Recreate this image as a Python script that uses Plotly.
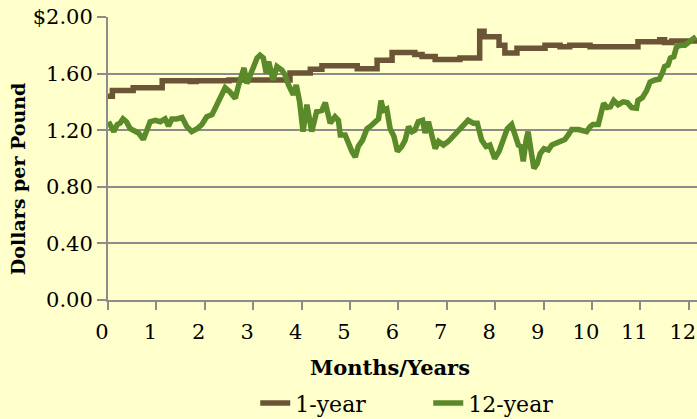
import plotly.graph_objects as go

# 1-year series (step changes): time in years, price in $/lb
one_year_t = [0.0, 0.09, 0.52, 1.12, 1.70, 1.82, 2.50, 3.76, 4.18, 4.42, 5.15, 5.56, 5.87,
              6.34, 6.49, 6.76, 7.27, 7.68, 7.77, 8.08, 8.20, 8.45, 9.03, 9.34, 9.54, 9.96,
              10.95, 11.40, 11.50, 11.65, 12.17]
one_year_v = [1.44, 1.48, 1.50, 1.55, 1.545, 1.55, 1.555, 1.605, 1.63, 1.655, 1.635, 1.695, 1.75,
              1.735, 1.72, 1.70, 1.71, 1.90, 1.86, 1.80, 1.745, 1.78, 1.80, 1.79, 1.80, 1.79,
              1.825, 1.84, 1.82, 1.83, 1.83]

# 12-year series
twelve_year_t = [0.01, 0.12, 0.19, 0.25, 0.31, 0.38, 0.46, 0.56, 0.63, 0.73, 0.81, 0.87, 0.98,
                 1.08, 1.18, 1.25, 1.32, 1.42, 1.53, 1.63, 1.73, 1.84, 1.94, 2.04, 2.15, 2.25,
                 2.32, 2.42, 2.52, 2.63, 2.70, 2.77, 2.81, 2.87, 2.94, 3.01, 3.08, 3.14, 3.21,
                 3.27, 3.32, 3.41, 3.49, 3.59, 3.66, 3.73, 3.80, 3.83, 3.89, 3.96, 4.03, 4.11,
                 4.21, 4.31, 4.42, 4.49, 4.59, 4.69, 4.76, 4.80, 4.90, 4.97, 5.04, 5.11, 5.17,
                 5.26, 5.35, 5.43, 5.52, 5.59, 5.64, 5.69, 5.76, 5.83, 5.91, 5.98, 6.07, 6.14,
                 6.21, 6.28, 6.34, 6.41, 6.50, 6.55, 6.62, 6.69, 6.76, 6.83, 6.93, 7.03, 7.13,
                 7.24, 7.34, 7.44, 7.55, 7.63, 7.72, 7.81, 7.89, 7.99, 8.08, 8.17, 8.25, 8.34,
                 8.41, 8.48, 8.53, 8.58, 8.64, 8.68, 8.75, 8.80, 8.87, 8.93, 9.01, 9.10, 9.17,
                 9.27, 9.34, 9.44, 9.51, 9.58, 9.72, 9.82, 9.89, 9.96, 10.02, 10.13, 10.20,
                 10.24, 10.31, 10.38, 10.45, 10.54, 10.64, 10.73, 10.82, 10.92, 10.95, 11.04,
                 11.13, 11.20, 11.30, 11.39, 11.46, 11.50, 11.57, 11.62, 11.69, 11.75, 11.83,
                 11.92, 12.01, 12.09, 12.15]
twelve_year_v = [1.26, 1.19, 1.24, 1.25, 1.28, 1.26, 1.21, 1.19, 1.18, 1.135, 1.20, 1.26, 1.27,
                 1.26, 1.28, 1.23, 1.28, 1.28, 1.29, 1.225, 1.19, 1.21, 1.24, 1.295, 1.31, 1.38,
                 1.44, 1.50, 1.47, 1.425, 1.52, 1.60, 1.64, 1.53, 1.60, 1.66, 1.71, 1.73, 1.71,
                 1.60, 1.685, 1.555, 1.65, 1.625, 1.59, 1.52, 1.47, 1.45, 1.52, 1.40, 1.19, 1.38,
                 1.19, 1.33, 1.34, 1.395, 1.25, 1.295, 1.27, 1.166, 1.166, 1.095, 1.05, 1.01, 1.085,
                 1.13, 1.21, 1.23, 1.26, 1.28, 1.41, 1.34, 1.35, 1.21, 1.155, 1.05, 1.085, 1.13,
                 1.225, 1.19, 1.20, 1.26, 1.27, 1.18, 1.26, 1.18, 1.07, 1.12, 1.095, 1.12, 1.155,
                 1.20, 1.24, 1.27, 1.25, 1.25, 1.13, 1.085, 1.095, 1.00, 1.05, 1.13, 1.21, 1.24,
                 1.18, 1.095, 1.085, 0.98, 1.13, 1.19, 1.035, 0.93, 0.965, 1.035, 1.07, 1.06, 1.095,
                 1.11, 1.13, 1.135, 1.166, 1.205, 1.205, 1.20, 1.19, 1.225, 1.24, 1.24, 1.33,
                 1.39, 1.36, 1.365, 1.41, 1.38, 1.40, 1.395, 1.36, 1.355, 1.41, 1.43,
                 1.48, 1.54, 1.555, 1.56, 1.61, 1.65, 1.66, 1.71, 1.72, 1.79, 1.80,
                 1.80, 1.825, 1.84, 1.86]

x_ticks = list(range(0, 13))
y_ticks = [0.0, 0.4, 0.8, 1.2, 1.6, 2.0]
y_tick_text = ["0.00", "0.40", "0.80", "1.20", "1.60", "$2.00"]

BROWN = "#6B5536"
GREEN = "#5B8A2B"
BG = "#FFFFCC"
GRID = "#8C8C8C"
FONT = "DejaVu Serif"

fig = go.Figure()
fig.add_trace(go.Scatter(x=one_year_t, y=one_year_v, name="1-year", mode="lines",
                         line=dict(color=BROWN, width=5.5, shape="hv")))
fig.add_trace(go.Scatter(x=twelve_year_t, y=twelve_year_v, name="12-year", mode="lines",
                         line=dict(color=GREEN, width=5.5)))

fig.update_layout(
    width=697, height=419,
    margin=dict(l=108, r=0, t=17, b=119, autoexpand=False),
    paper_bgcolor=BG, plot_bgcolor=BG,
    font=dict(family=FONT, size=21, color="black"),
    showlegend=True,
    legend=dict(orientation="h", x=0.25, xanchor="left", y=-0.365, yanchor="middle",
                font=dict(family=FONT, size=22), bgcolor="rgba(0,0,0,0)",
                entrywidth=128, entrywidthmode="pixels", tracegroupgap=0),
    annotations=[
        dict(text="<b>Months/Years</b>", xref="paper", yref="paper", x=0.478, y=-0.24,
             xanchor="center", yanchor="middle", showarrow=False,
             font=dict(family=FONT, size=21)),
        dict(text="<b>Dollars per Pound</b>", xref="paper", yref="paper", x=-0.153, y=0.43,
             xanchor="center", yanchor="middle", showarrow=False, textangle=-90,
             font=dict(family=FONT, size=19)),
    ],
)
fig.update_xaxes(range=[0, 12.17], tickvals=x_ticks, showgrid=False, zeroline=False,
                 automargin=False, ticklabeloverflow="allow",
                 showline=True, linecolor=GRID, linewidth=2,
                 ticks="outside", ticklen=8, tickwidth=2, tickcolor=GRID,
                 tickfont=dict(family=FONT, size=21), ticklabelshift=-6, ticklabelstandoff=4)
fig.update_yaxes(range=[0, 2.0], tickvals=y_ticks, ticktext=y_tick_text,
                 automargin=False,
                 showgrid=True, gridcolor=GRID, gridwidth=2, zeroline=False,
                 showline=True, linecolor=GRID, linewidth=2,
                 ticks="outside", ticklen=9, tickwidth=2, tickcolor=GRID,
                 tickfont=dict(family=FONT, size=21))

fig.write_html("out.html", config={"displayModeBar": False},
               post_script="document.body.style.margin='0';")
